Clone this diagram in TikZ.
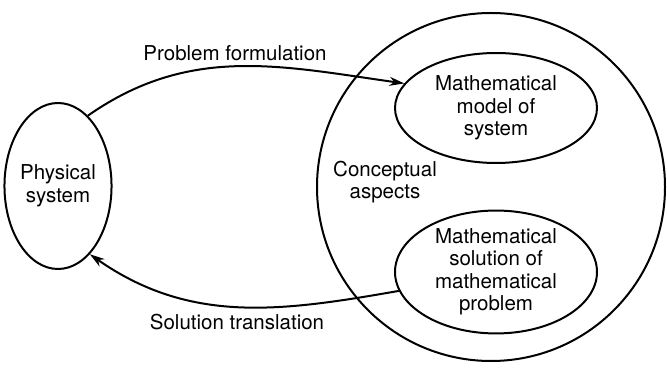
\documentclass[tikz,border=0pt]{standalone}
\usepackage{fontspec}
\setmainfont{TeX Gyre Heros}
\usetikzlibrary{shapes.geometric, arrows.meta, positioning}

\begin{document}
\begin{tikzpicture}[
    x=1pt, y=1pt,
    every node/.style = {font=\fontsize{20.5}{22.5}\selectfont, align=center},
    blob/.style = {ellipse, draw=black, line width=2pt, inner sep=0pt},
    realm/.style = {circle, draw=black, line width=2pt, inner sep=0pt, minimum size=348pt},
    arrow/.style = {-{Stealth[length=15pt, width=9pt]}, line width=2pt}
]
\useasboundingbox (0,0) rectangle (667,369);

% Conceptual circle and its contents
\node[realm] (realm) at (491,182) {};
\node (concept) at (385,187) {Conceptual\\aspects};
\node[blob, minimum width=202pt, minimum height=110pt] (model) at (496,261) {Mathematical\\model of\\system};
\node[blob, minimum width=202pt, minimum height=110pt] (soln) at (496,97) {Mathematical\\solution of\\mathematical\\problem};

% Physical side
\node[blob, minimum width=94pt, minimum height=166pt] (phys) at (58,183) {Physical\\system};

% Labels
\node (formlbl) at (235,316) {Problem formulation};
\node (translbl) at (237,47) {Solution translation};

% Edges
\draw[arrow] (phys.67) to[out=35, in=172] (model.165);
\draw[arrow] (soln.191) to[out=190, in=-35] (phys.295);

\end{tikzpicture}
\end{document}
